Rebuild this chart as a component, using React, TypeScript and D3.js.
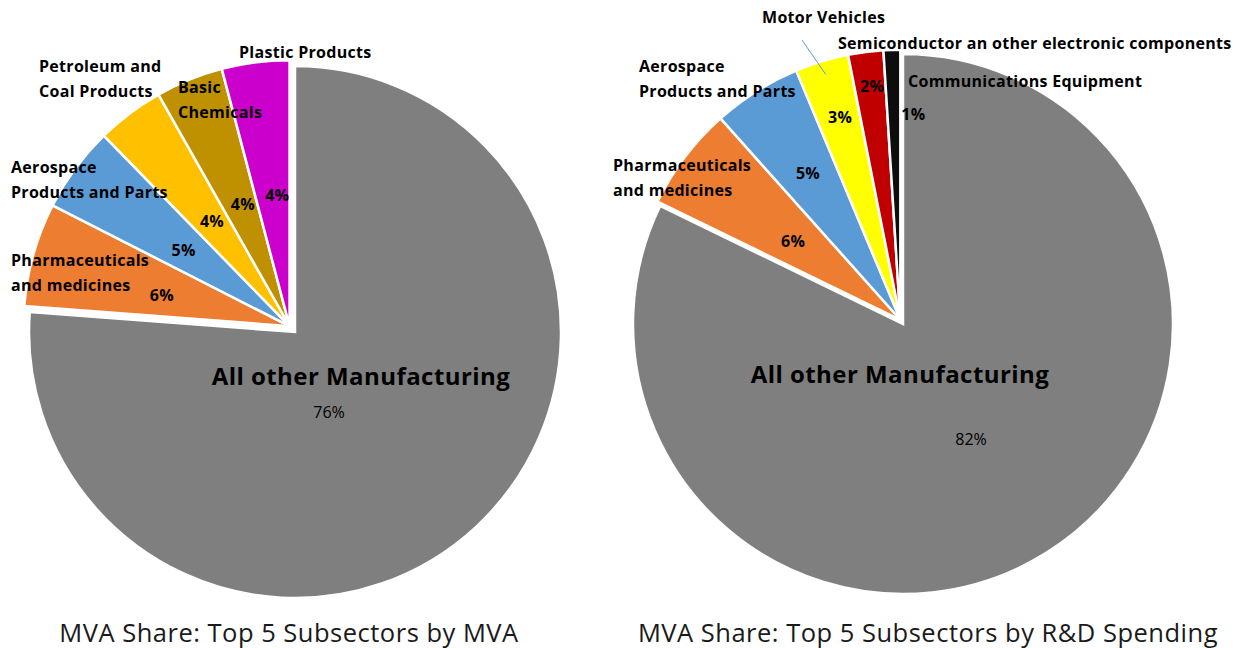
import React from "react";
import * as d3 from "d3";

// ---------- data ----------
const leftCategories = [
  "All other Manufacturing",
  "Pharmaceuticals and medicines",
  "Aerospace Products and Parts",
  "Petroleum and Coal Products",
  "Basic Chemicals",
  "Plastic Products",
];
const leftValues = [76.2, 6.3, 5.2, 4.1, 4.1, 4.1];
const leftColors = ["#7F7F7F", "#ED7D31", "#5B9BD5", "#FFC000", "#BF9000", "#CC00CC"];
const leftTitle = "MVA Share: Top 5 Subsectors by MVA";

const rightCategories = [
  "All other Manufacturing",
  "Pharmaceuticals and medicines",
  "Aerospace Products and Parts",
  "Motor Vehicles",
  "Semiconductor an other electronic components",
  "Communications Equipment",
];
const rightValues = [82.2, 6.2, 5.3, 3.2, 2.1, 1.0];
const rightColors = ["#7F7F7F", "#ED7D31", "#5B9BD5", "#FFFF00", "#C00000", "#0D0D0D"];
const rightTitle = "MVA Share: Top 5 Subsectors by R&D Spending";

// ---------- layout ----------
const W = 1244;
const H = 648;
const FONT = "'Open Sans', Lato, sans-serif";

type NameLabel = { lines: string[]; x: number; y: number };
type PieLayout = {
  cx: number;
  cy: number;
  r: number;
  explode: number;
  pctRatio: number[];
  pctShift: number[];
  names: (NameLabel | null)[];
  bigName: { x: number; y: number };
  bigPct: { x: number; y: number };
  titleX: number;
  leader?: { from: [number, number]; index: number; ratio: number };
};

const leftLayout: PieLayout = {
  cx: 295,
  cy: 332,
  r: 266,
  explode: 8,
  pctRatio: [0, 0.52, 0.52, 0.52, 0.52, 0.52],
  pctShift: [0, 0, 0, 0, 0, 0],
  names: [
    null,
    { lines: ["Pharmaceuticals", "and medicines"], x: 11, y: 260 },
    { lines: ["Aerospace", "Products and Parts"], x: 11, y: 167 },
    { lines: ["Petroleum and", "Coal Products"], x: 39, y: 66 },
    { lines: ["Basic", "Chemicals"], x: 178, y: 87 },
    { lines: ["Plastic Products"], x: 239, y: 52 },
  ],
  bigName: { x: 361, y: 375 },
  bigPct: { x: 329, y: 412 },
  titleX: 289,
};

const rightLayout: PieLayout = {
  cx: 903,
  cy: 324,
  r: 270,
  explode: 5,
  pctRatio: [0, 0.51, 0.66, 0.8, 0.89, 0.78],
  pctShift: [0, 0, 0, 0, 0, 17],
  names: [
    null,
    { lines: ["Pharmaceuticals", "and medicines"], x: 613, y: 165 },
    { lines: ["Aerospace", "Products and Parts"], x: 639, y: 66 },
    { lines: ["Motor Vehicles"], x: 762, y: 17 },
    { lines: ["Semiconductor an other electronic components"], x: 838, y: 43 },
    { lines: ["Communications Equipment"], x: 908, y: 81 },
  ],
  bigName: { x: 900, y: 373 },
  bigPct: { x: 971, y: 439 },
  titleX: 928,
  leader: { from: [802, 40], index: 3, ratio: 0.95 },
};

function Pie({
  categories,
  values,
  colors,
  title,
  layout,
}: {
  categories: string[];
  values: number[];
  colors: string[];
  title: string;
  layout: PieLayout;
}) {
  const data = categories.map((c, i) => ({ name: c, value: values[i], color: colors[i] }));
  const pie = d3
    .pie<{ name: string; value: number; color: string }>()
    .sort(null)
    .value((d) => d.value)
    .startAngle(0)
    .endAngle(2 * Math.PI);
  const arcs = pie(data);
  const arc = d3.arc<any>().innerRadius(0).outerRadius(layout.r);

  // group explosion of the small slices along their common bisector
  const small = arcs.slice(1);
  const gStart = small[0].startAngle;
  const gEnd = small[small.length - 1].endAngle;
  const gMid = (gStart + gEnd) / 2;
  const ex = Math.sin(gMid) * layout.explode;
  const ey = -Math.cos(gMid) * layout.explode;

  const fmt = d3.format(".0f");
  const total = d3.sum(values);
  const lineH = 25;
  const labelSize = 16;
  const labelSpacing = 0.3;

  return (
    <g>
      <g transform={`translate(${layout.cx},${layout.cy})`}>
        {arcs.map((a, i) => (
          <path
            key={i}
            d={arc(a) as string}
            fill={a.data.color}
            stroke="#FFFFFF"
            strokeWidth={2.5}
            strokeLinejoin="miter"
            transform={i === 0 ? undefined : `translate(${ex},${ey})`}
          />
        ))}
        {arcs.map((a, i) => {
          if (i === 0) return null;
          const rr = layout.r * layout.pctRatio[i];
          const la = d3.arc<any>().innerRadius(rr).outerRadius(rr);
          const [x, y] = la.centroid(a);
          return (
            <text
              key={"p" + i}
              x={x + layout.pctShift[i]}
              y={y}
              textAnchor="middle"
              dominantBaseline="central"
              fontFamily={FONT}
              fontWeight="bold"
              fontSize={labelSize}
              letterSpacing={labelSpacing}
              fill="#000"
            >
              {fmt((a.data.value / total) * 100)}%
            </text>
          );
        })}
      </g>
      {layout.names.map((n, i) =>
        n ? (
          <text
            key={"n" + i}
            fontFamily={FONT}
            fontWeight="bold"
            fontSize={labelSize}
            letterSpacing={labelSpacing}
            fill="#000"
            dominantBaseline="central"
          >
            {n.lines.map((l, j) => (
              <tspan key={j} x={n.x} y={n.y + j * lineH}>
                {l}
              </tspan>
            ))}
          </text>
        ) : null
      )}
      {layout.leader &&
        (() => {
          const a = arcs[layout.leader.index];
          const rr = layout.r * layout.leader.ratio;
          const la = d3.arc<any>().innerRadius(rr).outerRadius(rr);
          const [x, y] = la.centroid(a);
          return (
            <line
              x1={layout.leader.from[0]}
              y1={layout.leader.from[1]}
              x2={layout.cx + x + ex}
              y2={layout.cy + y + ey}
              stroke="#5B9BD5"
              strokeWidth={1}
            />
          );
        })()}
      <text
        x={layout.bigName.x}
        y={layout.bigName.y}
        textAnchor="middle"
        dominantBaseline="central"
        fontFamily={FONT}
        fontWeight="bold"
        fontSize={24}
        letterSpacing={0.45}
        fill="#000"
      >
        {categories[0]}
      </text>
      <text
        x={layout.bigPct.x}
        y={layout.bigPct.y}
        textAnchor="middle"
        dominantBaseline="central"
        fontFamily={FONT}
        fontSize={16}
        fill="#000"
      >
        {fmt((values[0] / total) * 100)}%
      </text>
      <text
        x={layout.titleX}
        y={632}
        textAnchor="middle"
        dominantBaseline="central"
        fontFamily={FONT}
        fontSize={25.5}
        letterSpacing={0.5}
        fill="#1a1a1a"
      >
        {title}
      </text>
    </g>
  );
}

export default function App() {
  return (
    <svg
      width={W}
      height={H}
      viewBox={`0 0 ${W} ${H}`}
      style={{ position: "absolute", left: 0, top: 0, background: "#FFFFFF" }}
    >
      <rect width={W} height={H} fill="#FFFFFF" />
      <Pie
        categories={leftCategories}
        values={leftValues}
        colors={leftColors}
        title={leftTitle}
        layout={leftLayout}
      />
      <Pie
        categories={rightCategories}
        values={rightValues}
        colors={rightColors}
        title={rightTitle}
        layout={rightLayout}
      />
    </svg>
  );
}
